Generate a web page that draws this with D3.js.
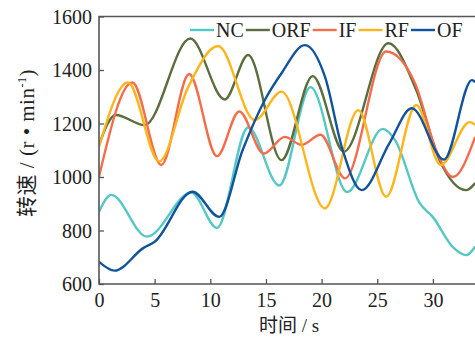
<!DOCTYPE html>
<head>
    <meta charset="utf-8">
    <style>
        body { margin: 0; background: #fff; }
        svg { display: block; }
        .tick-label { font: 20px "Liberation Serif", "Times New Roman", serif; fill: #222; }
        .legend text { font: 20px "Liberation Serif", "Times New Roman", serif; fill: #222; }
        .series { fill: none; stroke-width: 2.4px; }
    </style>
</head>
<body>
<script src="https://d3js.org/d3.v7.min.js"></script>
<script>

// series (time in s, speed in r/min)
var names = ["NC", "ORF", "IF", "RF", "OF"];
var colors = ["#55c7c5", "#5a6e3f", "#f46d4b", "#fdb51b", "#11539c"];

var ncT  = [0, 1.1, 4.3, 8.3, 10.6, 13.4, 16.2, 19.0, 22.3, 25.5, 26.6, 28.8, 30.0, 31.8, 33.0, 33.8];
var ncV  = [870, 933, 777, 942, 810, 1185, 968, 1336, 944, 1180, 1138, 903, 850, 738, 708, 740];

var orfT = [0, 1.5, 4.1, 8.2, 11.3, 13.4, 16.4, 19.2, 22.0, 26.0, 28.5, 30.6, 33.0, 33.8];
var orfV = [1120, 1232, 1194, 1518, 1290, 1456, 1063, 1377, 1095, 1500, 1325, 1063, 951, 977];

var ifT  = [0, 3.0, 5.6, 8.1, 10.6, 12.6, 14.8, 16.7, 18.2, 19.9, 22.1, 25.8, 28.4, 30.3, 31.8, 33.8];
var ifV  = [1001, 1353, 1045, 1385, 1078, 1245, 1088, 1150, 1120, 1158, 995, 1469, 1350, 1100, 1000, 1150];

var rfT  = [0, 2.6, 5.4, 8.0, 10.7, 14.0, 16.4, 20.3, 23.3, 25.8, 28.5, 30.7, 33.3, 33.8];
var rfV  = [1113, 1353, 1058, 1335, 1490, 1213, 1319, 883, 1250, 926, 1269, 1045, 1205, 1195];

var ofT  = [0, 1.4, 4.0, 5.0, 8.4, 10.8, 12.9, 14.9, 16.4, 18.5, 20.3, 21.9, 23.6, 26.1, 28.1, 31.0, 33.5, 33.8];
var ofV  = [683, 650, 735, 758, 945, 851, 1100, 1288, 1388, 1493, 1375, 1100, 951, 1127, 1257, 1065, 1362, 1355];

var xTicks = [0, 5, 10, 15, 20, 25, 30];
var yTicks = [600, 800, 1000, 1200, 1400, 1600];

var width = 475, height = 337,
    plotLeft = 99, plotTop = 16.5, plotBottom = 284;

var x = d3.scaleLinear().domain([0, 35]).range([plotLeft, plotLeft + 35 * 11.13]);
var y = d3.scaleLinear().domain([600, 1600]).range([plotBottom, plotTop]);

var svg = d3.select("body").append("svg")
    .attr("width", width)
    .attr("height", height);

svg.append("defs").append("clipPath").attr("id", "plot")
  .append("rect")
    .attr("x", plotLeft).attr("y", plotTop - 2)
    .attr("width", width - plotLeft).attr("height", plotBottom - plotTop + 2);

var table = [
  [ncT, ncV], [orfT, orfV], [ifT, ifV], [rfT, rfV], [ofT, ofV]
].map(function(s, i) {
  return { name: names[i], color: colors[i],
           points: s[0].map(function(t, j) { return [t, s[1][j]]; }) };
});

var line = d3.line()
    .curve(d3.curveMonotoneX)
    .x(function(d) { return x(d[0]); })
    .y(function(d) { return y(d[1]); });

svg.append("g")
    .attr("clip-path", "url(#plot)")
  .selectAll("path")
  .data(table)
  .enter().append("path")
    .attr("class", "series")
    .attr("stroke", function(d) { return d.color; })
    .attr("d", function(d) { return line(d.points); });

// axes (ticks inward)
var xAxis = d3.axisBottom(x).tickValues(xTicks).tickSize(-5).tickPadding(6).tickFormat(d3.format("d"));
var yAxis = d3.axisLeft(y).tickValues(yTicks).tickSize(-5).tickPadding(7).tickFormat(d3.format("d"));

var gx = svg.append("g").attr("transform", "translate(0," + plotBottom + ")").call(xAxis);
var gy = svg.append("g").attr("transform", "translate(" + plotLeft + ",0)").call(yAxis);

[gx, gy].forEach(function(g) {
  g.select(".domain").remove();
  g.selectAll(".tick line").attr("stroke", "#555").attr("stroke-width", 1.3);
  g.selectAll(".tick text").attr("class", "tick-label");
});
gx.selectAll(".tick text").attr("dy", "0.85em");
gy.selectAll(".tick text").attr("dy", "0.33em");

// frame: left, bottom and top lines
svg.append("path")
    .attr("d", "M" + width + "," + plotTop + "H" + plotLeft + "V" + plotBottom + "H" + width)
    .attr("fill", "none")
    .attr("stroke", "#555")
    .attr("stroke-width", 1.6);

// legend
var legend = svg.append("g").attr("class", "legend");
var lx = 190, ly = 30;
table.forEach(function(d) {
  legend.append("line")
      .attr("x1", lx).attr("x2", lx + 24)
      .attr("y1", ly).attr("y2", ly)
      .attr("stroke", d.color).attr("stroke-width", 2.4);
  var t = legend.append("text")
      .attr("x", lx + 26).attr("y", ly + 7)
      .text(d.name);
  lx = lx + 26 + t.node().getComputedTextLength() + 2;
});

// axis titles
svg.append("text")
    .attr("x", 289).attr("y", 332)
    .attr("text-anchor", "middle")
    .style("font-size", "19px").style("fill", "#222")
    .call(function(t) {
      t.append("tspan").style("font-family", "'Noto Sans CJK SC'").text("时间");
      t.append("tspan").style("font-family", "'Liberation Serif'").text(" / s");
    });

svg.append("text")
    .attr("transform", "translate(34,143)rotate(-90)")
    .attr("text-anchor", "middle")
    .style("font-size", "21px").style("fill", "#222")
    .style("letter-spacing", "0.5px")
    .call(function(t) {
      t.append("tspan").style("font-family", "'Noto Sans CJK SC'").text("转速");
      t.append("tspan").style("font-family", "'Liberation Serif'").text(" / (r • min");
      t.append("tspan").style("font-family", "'Liberation Serif'").style("font-size", "12px")
          .attr("dy", "-8").text("-1");
      t.append("tspan").style("font-family", "'Liberation Serif'")
          .attr("dy", "8").text(")");
    });

</script>
</body>
